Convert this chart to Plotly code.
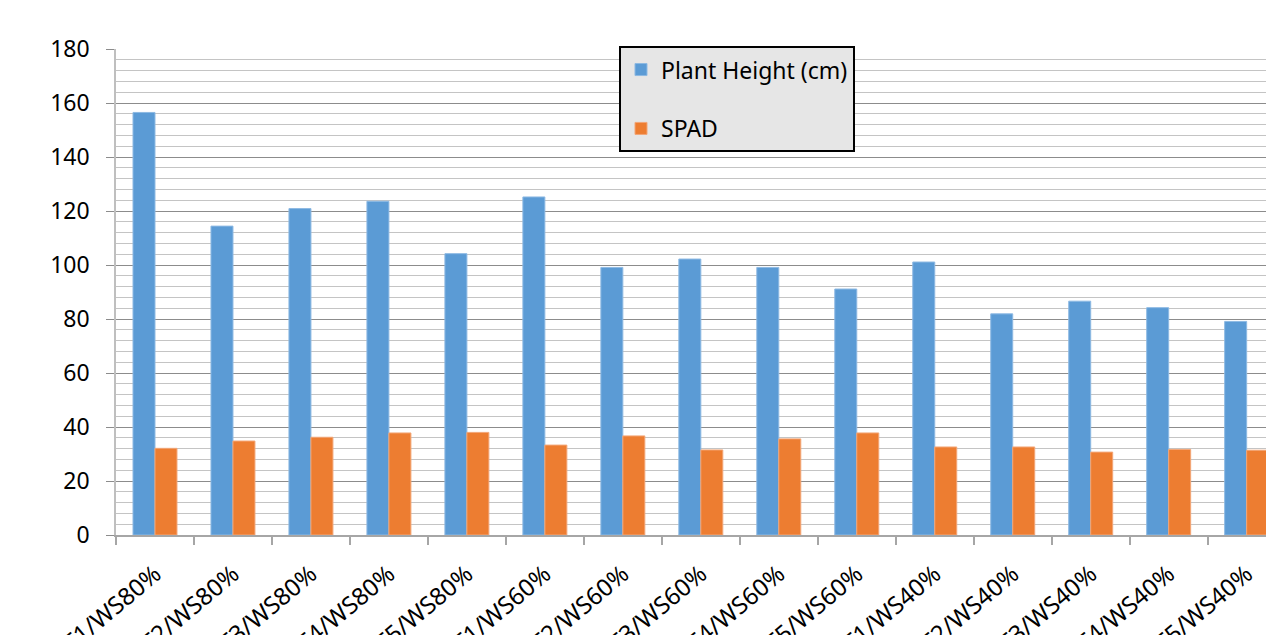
import plotly.graph_objects as go

categories = [
    "T1/WS80%", "T2/WS80%", "T3/WS80%", "T4/WS80%", "T5/WS80%",
    "T1/WS60%", "T2/WS60%", "T3/WS60%", "T4/WS60%", "T5/WS60%",
    "T1/WS40%", "T2/WS40%", "T3/WS40%", "T4/WS40%", "T5/WS40%",
]
plant_height = [156.5, 114.4, 120.9, 123.6, 104.2,
                125.2, 99.1, 102.2, 99.1, 91.1,
                101.1, 81.9, 86.6, 84.2, 79.1]
spad = [32.1, 34.8, 36.2, 37.8, 38.0,
        33.3, 36.7, 31.5, 35.6, 37.8,
        32.6, 32.6, 30.7, 31.7, 31.4]
y_ticks = [0, 20, 40, 60, 80, 100, 120, 140, 160, 180]

FONT = "Noto Sans"

fig = go.Figure()
fig.add_trace(go.Bar(
    x=categories, y=plant_height, name="Plant Height (cm)",
    marker=dict(color="#5B9BD5", line=dict(color="#8DB9E3", width=1)),
    legendgroup="a",
))
fig.add_trace(go.Bar(
    x=categories, y=spad, name="SPAD",
    marker=dict(color="#ED7D31", line=dict(color="#F3A677", width=1)),
    legendgroup="b",
))

fig.update_layout(
    width=1266, height=635,
    margin=dict(l=116, r=0, t=49, b=100, autoexpand=False),
    paper_bgcolor="white", plot_bgcolor="white",
    barmode="group", bargap=0.436, bargroupgap=0,
    font=dict(family=FONT, size=23, color="#000000"),
    showlegend=True,
    legend=dict(
        x=0.4374, y=1.006, xanchor="left", yanchor="top",
        bgcolor="#E6E6E6", bordercolor="#000000", borderwidth=2,
        font=dict(family=FONT, size=23, color="#000000"),
        traceorder="grouped", tracegroupgap=26,
    ),
    xaxis=dict(
        type="category",
        range=[-0.5, 14.248],
        automargin=False,
        tickson="boundaries",
        ticks="outside", ticklen=8, tickcolor="#A6A6A6", tickwidth=1.5,
        showline=True, linecolor="#A6A6A6", linewidth=1.5,
        showgrid=False,
        tickangle=-40,
        ticklabelstandoff=14,
        tickfont=dict(family=FONT, size=24, color="#000000"),
    ),
    yaxis=dict(
        range=[0, 180],
        automargin=False,
        tickvals=y_ticks,
        ticks="outside", ticklen=8, tickcolor="#8C8C8C",
        showline=True, linecolor="#BFBFBF", linewidth=1.5,
        showgrid=True, gridcolor="#8C8C8C", gridwidth=1,
        zeroline=False,
        ticklabelstandoff=12,
        minor=dict(dtick=4, showgrid=True, gridcolor="#C4C4C4", gridwidth=1),
        tickfont=dict(family=FONT, size=23, color="#000000"),
    ),
)

fig.write_html(
    "out.html",
    config={"displayModeBar": False},
    post_script="document.body.style.margin='0';document.body.style.overflow='hidden';",
)
